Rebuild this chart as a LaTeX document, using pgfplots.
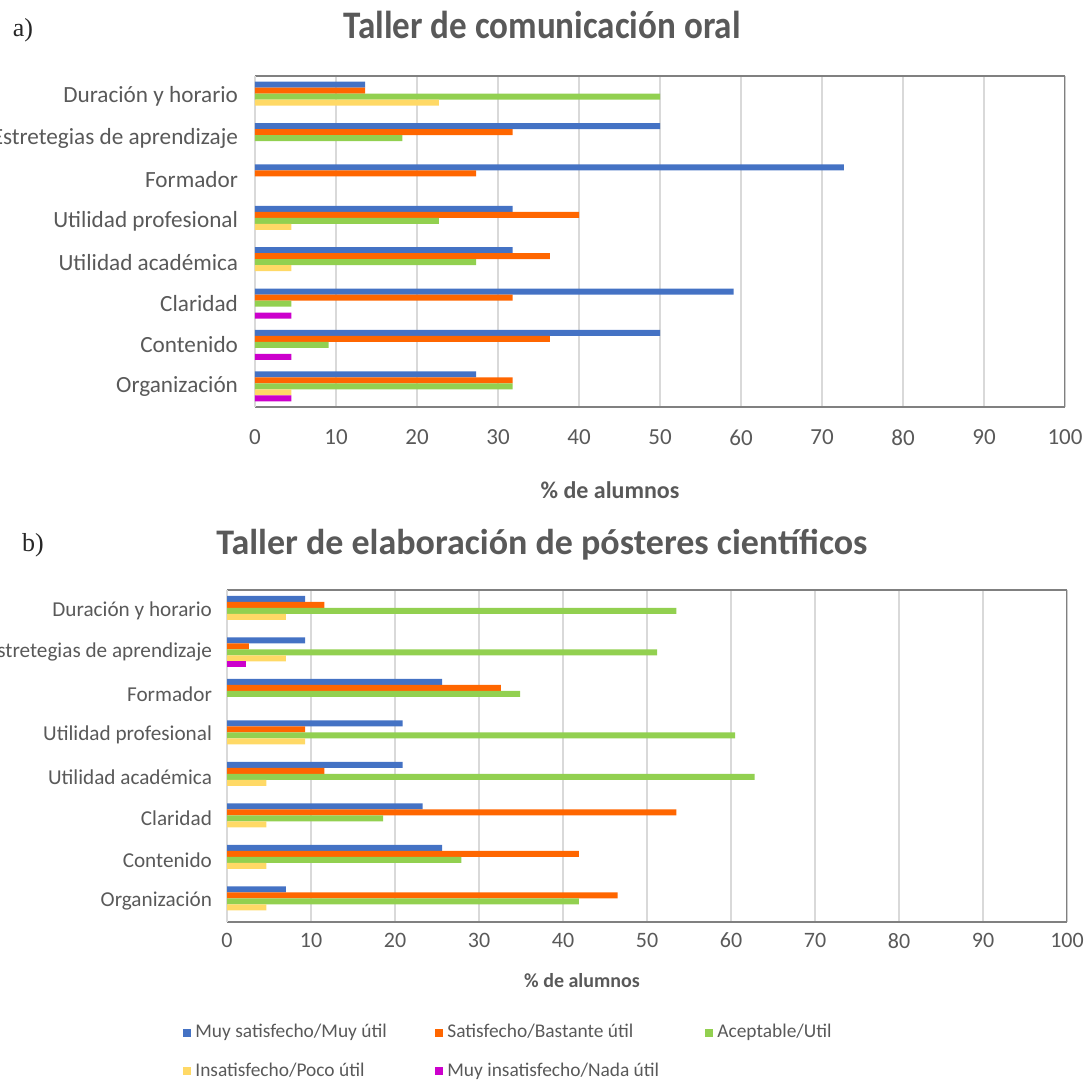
\documentclass[border=0pt]{standalone}
\usepackage{pgfplots}
\pgfplotsset{compat=1.18}
\usepackage{fontspec}
\setmainfont{Carlito}
\newfontfamily\serifa{Liberation Serif}
\definecolor{cBlue}{HTML}{4472C4}
\definecolor{cOrange}{HTML}{FF6600}
\definecolor{cGreen}{HTML}{92D050}
\definecolor{cYellow}{HTML}{FFD966}
\definecolor{cPurple}{HTML}{CC00CC}
\definecolor{txt}{HTML}{595959}
\definecolor{gridc}{HTML}{D9D9D9}
\pgfplotsset{
  mybars/.style={
    xbar, scale only axis,
    xmin=0, xmax=100, ymin=-0.5, ymax=7.5,
    ytick={0,...,7},
    yticklabels={Organización ,Contenido,Claridad,Utilidad académica,Utilidad profesional,Formador,Estretegias de aprendizaje,Duración y horario},
    xtick={0,10,...,100},
    xmajorgrids, major grid style={draw=gridc, line width=0.8pt},
    separate axis lines,
    x axis line style={draw=black!50, line width=0.7pt},
    y axis line style={draw=gridc, line width=0.7pt},
    major tick length=0pt,
    bar width=3pt,
    tick label style={text=txt},
    /pgf/number format/assume math mode=true,
    legend image code/.code={\fill[##1] (0pt,-2pt) rectangle (4pt,2pt);},
  },
  s1/.style={fill=cBlue, draw=none, bar shift=6pt},
  s2/.style={fill=cOrange, draw=none, bar shift=3pt},
  s3/.style={fill=cGreen, draw=none, bar shift=0pt},
  s4/.style={fill=cYellow, draw=none, bar shift=-3pt},
  s5/.style={fill=cPurple, draw=none, bar shift=-6pt},
}
\begin{document}
\begin{tikzpicture}
\useasboundingbox (0,0) rectangle (543pt,541pt);
% ---------- a) ----------
\begin{axis}[mybars, at={(127.5pt,337.5pt)}, anchor=south west,
  width=405pt, height=165.5pt,
  yticklabel style={font=\fontsize{11.6}{13}\selectfont, xshift=-5pt},
  xticklabel style={font=\fontsize{11.5}{13}\selectfont, yshift=-8pt}]
\addplot[s1] coordinates {(13.6,7) (50,6) (72.7,5) (31.8,4) (31.8,3) (59.1,2) (50,1) (27.3,0)};
\addplot[s2] coordinates {(13.6,7) (31.8,6) (27.3,5) (40,4) (36.4,3) (31.8,2) (36.4,1) (31.8,0)};
\addplot[s3] coordinates {(50,7) (18.2,6) (22.7,4) (27.3,3) (4.5,2) (9.1,1) (31.8,0)};
\addplot[s4] coordinates {(22.7,7) (4.5,4) (4.5,3) (4.5,0)};
\addplot[s5] coordinates {(4.5,2) (4.5,1) (4.5,0)};
\draw[black!50, line width=0.7pt] (rel axis cs:1,0) -- (rel axis cs:1,1);
\end{axis}
% ---------- b) ----------
\begin{axis}[mybars, at={(113.5pt,80pt)}, anchor=south west,
  width=420pt, height=166pt,
  yticklabel style={font=\fontsize{10.6}{12}\selectfont, xshift=-4pt},
  xticklabel style={font=\fontsize{11}{13}\selectfont, yshift=-2pt},
  legend columns=3,
  legend style={at={(axis description cs:-0.0524,-0.295)}, anchor=north west,
    draw=none, fill=none, inner sep=0pt, font=\fontsize{9.7}{12}\selectfont, text=txt,
    row sep=7pt},
  legend cell align=left]
\addplot[s1] coordinates {(9.3,7) (9.3,6) (25.6,5) (20.9,4) (20.9,3) (23.3,2) (25.6,1) (7.0,0)};
\addlegendentry{\makebox[118pt][l]{Muy satisfecho/Muy útil}}
\addplot[s2] coordinates {(11.6,7) (2.6,6) (32.6,5) (9.3,4) (11.6,3) (53.5,2) (41.9,1) (46.5,0)};
\addlegendentry{\makebox[127pt][l]{Satisfecho/Bastante útil}}
\addplot[s3] coordinates {(53.5,7) (51.2,6) (34.9,5) (60.5,4) (62.8,3) (18.6,2) (27.9,1) (41.9,0)};
\addlegendentry{Aceptable/Util}
\addplot[s4] coordinates {(7.0,7) (7.0,6) (9.3,4) (4.7,3) (4.7,2) (4.7,1) (4.7,0)};
\addlegendentry{\makebox[118pt][l]{Insatisfecho/Poco útil}}
\addplot[s5] coordinates {(2.3,6)};
\addlegendentry{Muy insatisfecho/Nada útil}
\draw[black!50, line width=0.7pt] (rel axis cs:1,0) -- (rel axis cs:1,1);
\end{axis}
% ---------- titles ----------
\node[text=txt, font=\bfseries\fontsize{19.5}{22}\selectfont, xscale=0.9] at (271pt,528.5pt) {Taller de comunicación oral};
\node[text=black!85, font=\serifa\fontsize{13}{15}\selectfont] at (11.5pt,526pt) {a)};
\node[text=txt, font=\bfseries\fontsize{12}{14}\selectfont] at (305pt,296pt) {\% de alumnos};
\node[text=txt, font=\bfseries\fontsize{18}{20}\selectfont] at (271pt,268.5pt) {Taller de elaboración de pósteres científicos};
\node[text=black!85, font=\serifa\fontsize{13}{15}\selectfont] at (16.5pt,268.5pt) {b)};
\node[text=txt, font=\bfseries\fontsize{10}{12}\selectfont] at (291pt,50.5pt) {\% de alumnos};
\end{tikzpicture}
\end{document}
